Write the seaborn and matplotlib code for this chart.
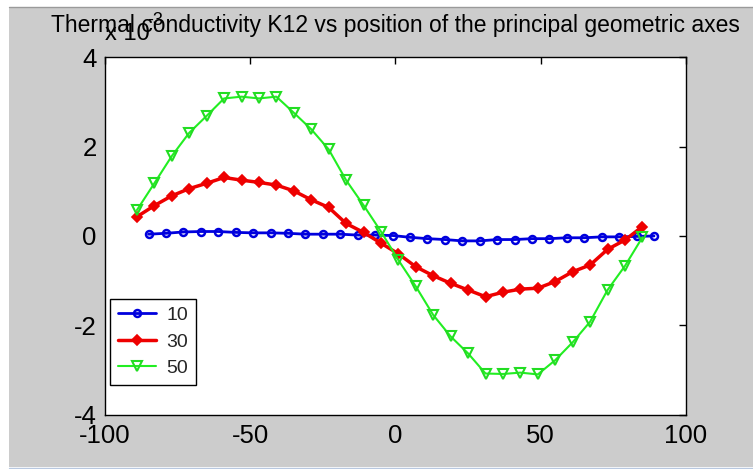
import matplotlib
matplotlib.use("Agg")
import matplotlib.pyplot as plt
import seaborn as sns
from matplotlib.patches import Rectangle
from matplotlib.lines import Line2D

# ---- data (values in units of 1e-3) ----
x_10 = [-85, -79, -73, -67, -61, -55, -49, -43, -37, -31, -25, -19, -13, -7, -1,
        5, 11, 17, 23, 29, 35, 41, 47, 53, 59, 65, 71, 77, 83, 89]
y_10 = [0.04, 0.06, 0.09, 0.10, 0.10, 0.08, 0.07, 0.07, 0.06, 0.04, 0.04, 0.04, 0.02, 0.02, 0.01,
        -0.03, -0.06, -0.08, -0.11, -0.11, -0.08, -0.08, -0.06, -0.06, -0.04, -0.04, -0.02, -0.02, -0.01, 0.0]

x_30 = [-89, -83, -77, -71, -65, -59, -53, -47, -41, -35, -29, -23, -17, -11, -5,
        1, 7, 13, 19, 25, 31, 37, 43, 49, 55, 61, 67, 73, 79, 85]
y_30 = [0.43, 0.68, 0.90, 1.06, 1.18, 1.31, 1.25, 1.20, 1.14, 1.01, 0.81, 0.64, 0.28, 0.08, -0.16,
        -0.40, -0.69, -0.89, -1.06, -1.21, -1.36, -1.26, -1.19, -1.17, -1.02, -0.80, -0.65, -0.30, -0.09, 0.21]

x_50 = x_30
y_50 = [0.58, 1.18, 1.79, 2.31, 2.69, 3.08, 3.12, 3.08, 3.12, 2.76, 2.39, 1.94, 1.25, 0.69, 0.10,
        -0.54, -1.13, -1.77, -2.25, -2.63, -3.08, -3.09, -3.06, -3.10, -2.78, -2.38, -1.92, -1.21, -0.67, -0.03]

labels = ["10", "30", "50"]
xticks = [-100, -50, 0, 50, 100]
yticks = [-4, -2, 0, 2, 4]
title = "Thermal conductivity K12 vs position of the principal geometric axes"

# ---- style ----
sns.set_style("white")
plt.rcParams["font.family"] = ["Liberation Sans", "DejaVu Sans"]
plt.rcParams["axes.unicode_minus"] = False

W, H = 753, 469
fig = plt.figure(figsize=(W / 100, H / 100), dpi=100)
fig.patch.set_facecolor("white")
# gray window area (MATLAB figure background)
fig.patches.append(Rectangle((9 / W, (H - 467) / H), (W - 9) / W, (467 - 7) / H,
                             transform=fig.transFigure, facecolor="#cccccc",
                             edgecolor="none", zorder=-10))
fig.lines.append(Line2D([9 / W, 1], [(H - 7) / H] * 2, transform=fig.transFigure,
                        color="#9a9a9a", linewidth=1, zorder=-9))
fig.lines.append(Line2D([9 / W, 1], [(H - 467.5) / H] * 2, transform=fig.transFigure,
                        color="#b8c8e0", linewidth=1, zorder=-9))

ax = fig.add_axes([0.1394, 0.116, 0.7716, 0.7617])
ax.set_facecolor("white")

sns.lineplot(x=x_10, y=y_10, ax=ax, color="#0000dd", marker="o", markersize=5,
             markerfacecolor="none", markeredgecolor="#0000dd", markeredgewidth=1.8,
             linewidth=2, label=labels[0], sort=False)
sns.lineplot(x=x_30, y=y_30, ax=ax, color="#ee0000", marker="D", markersize=5,
             markerfacecolor="#ee0000", markeredgecolor="#ee0000", markeredgewidth=1.2,
             linewidth=2.5, label=labels[1], sort=False)
sns.lineplot(x=x_50, y=y_50, ax=ax, color="#22ee22", marker="v", markersize=6.5,
             markerfacecolor="none", markeredgecolor="#22dd22", markeredgewidth=1.5,
             linewidth=1.5, label=labels[2], sort=False)

ax.set_xlim(-100, 100)
ax.set_ylim(-4, 4)
ax.set_xticks(xticks)
ax.set_yticks(yticks)
ax.set_xticklabels([str(v) for v in xticks])
ax.set_yticklabels([str(v) for v in yticks])
ax.tick_params(direction="in", top=True, right=True, length=5, width=1,
               labelsize=18.5, colors="black")
ax.tick_params(axis="x", pad=7)
ax.tick_params(axis="y", pad=6)
for s in ax.spines.values():
    s.set_visible(True)
    s.set_color("black")
    s.set_linewidth(1)
ax.set_xlabel("")
ax.set_ylabel("")

ax.text(0.0, 1.035, "x 10", transform=ax.transAxes, fontsize=17,
        ha="left", va="bottom", color="black")
ax.text(0.073, 1.08, "-3", transform=ax.transAxes, fontsize=13,
        ha="left", va="bottom", color="black")
ax.set_title(title, fontsize=16.5, pad=18, color="black")

leg = ax.legend(loc="lower left", bbox_to_anchor=(0.0, 0.07), fontsize=14,
                frameon=True, fancybox=False, edgecolor="black", framealpha=1,
                handlelength=2.0, borderpad=0.4, labelspacing=0.45, handletextpad=0.5,
                borderaxespad=0.25)
leg.get_frame().set_linewidth(1)

fig.savefig("out.png", dpi=100, facecolor=fig.get_facecolor())
